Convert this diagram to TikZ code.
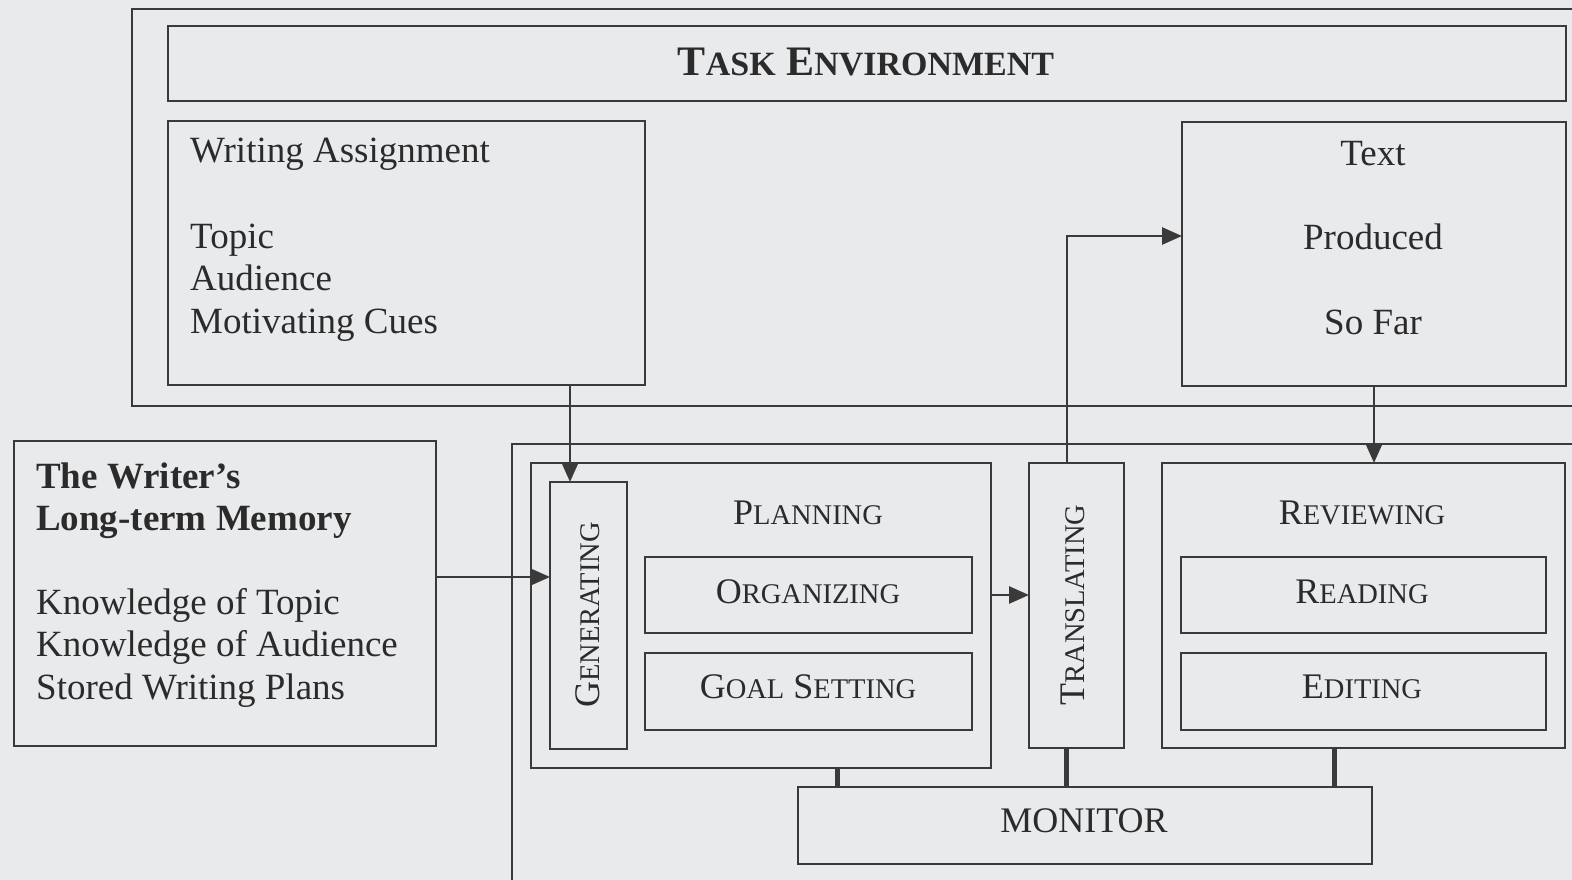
\documentclass[tikz,border=0pt]{standalone}
\usepackage{fontspec}
\setmainfont{Liberation Serif}
\usetikzlibrary{arrows.meta,fit}
\definecolor{bg}{HTML}{E9EAEC}
\definecolor{ink}{HTML}{3A3A3A}
\definecolor{txt}{HTML}{2B2B2B}
\newcommand\smc[1]{{\fontsize{28.5}{30}\selectfont #1}}
\newcommand\bsmc[1]{{\fontsize{34}{36}\selectfont #1}}
\begin{document}
\begin{tikzpicture}[x=1pt,y=-1pt,
  box/.style={draw=ink, line width=2.6pt, inner sep=0pt, outer sep=0pt},
  lbl/.style={text=txt, inner sep=0pt, font=\fontsize{37}{43}\selectfont},
  sclbl/.style={text=txt, inner sep=0pt, font=\fontsize{36}{40}\selectfont},
  arr/.style={draw=ink, line width=2.6pt, -{Triangle[length=20pt,width=17pt]}},
  link/.style={draw=ink, line width=5pt}]
\useasboundingbox (0,0) rectangle (1572,880);
\clip (0,0) rectangle (1572,880);
\fill[bg] (0,0) rectangle (1572,880);

% Task environment
\node[box, fit={(132,9) (1600,406)}] (taskenv) {};
\node[box, fit={(168,26) (1566,101)}] (title) {};
\node[text=txt, inner sep=0pt, anchor=base, font=\fontsize{42}{44}\selectfont\bfseries] (titletext) at (866,76) {T\bsmc{ASK} E\bsmc{NVIRONMENT}};
\node[box, fit={(168,121) (645,385)}] (writing) {};
\node[lbl, anchor=base west] (wa1) at (190,163) {Writing Assignment};
\node[lbl, anchor=base west] (wa2) at (190,248) {Topic};
\node[lbl, anchor=base west] (wa3) at (190,290) {Audience};
\node[lbl, anchor=base west] (wa4) at (190,333) {Motivating Cues};
\node[box, fit={(1182,122) (1566,386)}] (textbox) {};
\node[lbl, anchor=base] (tx1) at (1373,165) {Text};
\node[lbl, anchor=base] (tx2) at (1373,249) {Produced};
\node[lbl, anchor=base] (tx3) at (1373,334) {So Far};

% Long-term memory
\node[box, fit={(14,441) (436,746)}] (ltm) {};
\node[lbl, anchor=base west, font=\fontsize{37}{43}\selectfont\bfseries] (lt1) at (36,488) {The Writer’s};
\node[lbl, anchor=base west, font=\fontsize{37}{43}\selectfont\bfseries] (lt2) at (36,530) {Long-term Memory};
\node[lbl, anchor=base west] (lt3) at (36,614) {Knowledge of Topic};
\node[lbl, anchor=base west] (lt4) at (36,656) {Knowledge of Audience};
\node[lbl, anchor=base west] (lt5) at (36,699) {Stored Writing Plans};

% Writing process
\node[box, fit={(512,444) (1600,900)}] (process) {};
\node[box, fit={(531,463) (991,768)}] (planning) {};
\node[sclbl, anchor=base] (plantext) at (808,524) {P\smc{LANNING}};
\node[box, fit={(550,482) (627,749)}] (gen) {};
\node[sclbl, rotate=90] (gentext) at (588,615) {G\smc{ENERATING}};
\node[box, fit={(645,557) (972,633)}] (org) {};
\node[sclbl, anchor=base] (orgtext) at (808,603) {O\smc{RGANIZING}};
\node[box, fit={(645,653) (972,730)}] (goal) {};
\node[sclbl, anchor=base] (goaltext) at (808,698) {G\smc{OAL} S\smc{ETTING}};
\node[box, fit={(1029,463) (1124,748)}] (trans) {};
\node[sclbl, rotate=90] (transtext) at (1073,605) {T\smc{RANSLATING}};
\node[box, fit={(1162,463) (1565,748)}] (review) {};
\node[sclbl, anchor=base] (revtext) at (1362,524) {R\smc{EVIEWING}};
\node[box, fit={(1181,557) (1546,633)}] (read) {};
\node[sclbl, anchor=base] (readtext) at (1362,603) {R\smc{EADING}};
\node[box, fit={(1181,653) (1546,730)}] (edit) {};
\node[sclbl, anchor=base] (edittext) at (1362,698) {E\smc{DITING}};
\node[box, fit={(798,787) (1372,864)}] (monitor) {};
\node[sclbl, anchor=base] (montext) at (1084,832) {MONITOR};

% helper coordinates
\coordinate (xwa) at (570,0);
\coordinate (yltm) at (0,577);
\coordinate (ypt) at (0,595);
\coordinate (xtr) at (1067,0);
\coordinate (ytx) at (0,236);
\coordinate (xrv) at (1374,0);
\coordinate (xm1) at (837,0);
\coordinate (xm2) at (1066,0);
\coordinate (xm3) at (1334,0);

% connectors
\draw[arr] (writing.south -| xwa) -- (gen.north -| xwa);
\draw[arr] (ltm.east |- yltm) -- (gen.west |- yltm);
\draw[arr] (planning.east |- ypt) -- (trans.west |- ypt);
\draw[arr] (trans.north -| xtr) -- (xtr |- ytx) -- (textbox.west |- ytx);
\draw[arr] (textbox.south -| xrv) -- (review.north -| xrv);
\draw[link] (planning.south -| xm1) -- (monitor.north -| xm1);
\draw[link] (trans.south -| xm2) -- (monitor.north -| xm2);
\draw[link] (review.south -| xm3) -- (monitor.north -| xm3);
\end{tikzpicture}
\end{document}
